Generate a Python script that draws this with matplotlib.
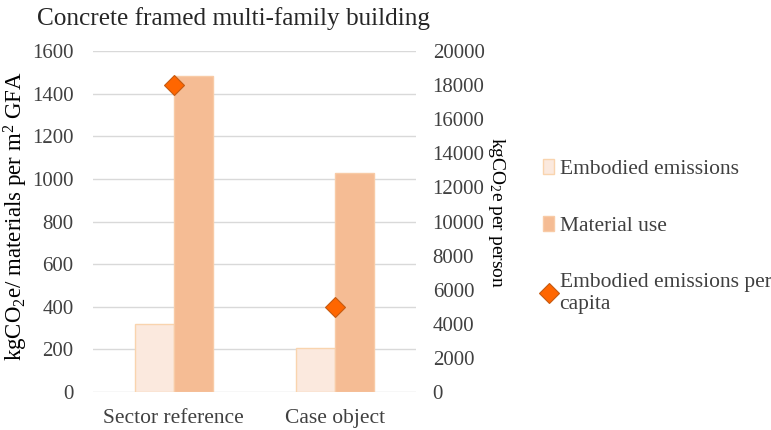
import matplotlib
matplotlib.use("Agg")
import matplotlib.pyplot as plt
import numpy as np

categories = ["Sector reference", "Case object"]
embodied = [320, 206]
material = [1485, 1028]
per_capita = [18000, 5000]

plt.rcParams['font.family'] = ['Liberation Serif', 'DejaVu Serif']
plt.rcParams['mathtext.fontset'] = 'custom'
plt.rcParams['mathtext.rm'] = 'Liberation Serif'
plt.rcParams['mathtext.it'] = 'Liberation Serif:italic'

fig = plt.figure(figsize=(7.71, 4.30), dpi=100)
ax = fig.add_axes([93/771, 1-392/430, 323/771, (392-51)/430])
ax2 = ax.twinx()

x = np.arange(len(categories))
w = 0.24
ax.bar(x - w/2, embodied, w, color='#FBE9DE', edgecolor='#F9D4AE', linewidth=1, label='Embodied emissions', zorder=3)
ax.bar(x + w/2, material, w, color='#F5BC94', edgecolor='#F8CBA6', linewidth=1, label='Material use', zorder=3)
ax2.plot(x, per_capita, linestyle='none', marker='D', markersize=10, color='#FF6600',
         markeredgecolor='#C55A11', markeredgewidth=0.8, label='Embodied emissions per\ncapita', zorder=4)

ax.set_xlim(-0.5, 1.5)
ax.set_ylim(0, 1600)
ax.set_yticks(range(0, 1601, 200))
ax2.set_ylim(0, 20000)
ax2.set_yticks(range(0, 20001, 2000))
ax.grid(axis='y', color='#D9D9D9', linewidth=1, zorder=0)
ax.set_axisbelow(True)
for a in (ax, ax2):
    for s in a.spines.values():
        s.set_visible(False)
    a.tick_params(length=0, labelsize=15, colors='#404040')
ax.tick_params(axis='y', pad=14)
ax2.tick_params(axis='y', pad=12)
ax.tick_params(axis='x', pad=12, labelsize=15.5)
ax.set_xticks(x)
ax.set_xticklabels(categories)

fig.text(16/771, 1-216/430, 'kgCO$_2$e/ materials per m$^2$ GFA', fontsize=16.5, color='#000000',
         rotation=90, ha='center', va='center')
fig.text(496/771, 1-213/430, 'kgCO$_2$e per person', fontsize=14, color='#000000',
         rotation=270, ha='center', va='center')

fig.text(37/771, 1-19/430, 'Concrete framed multi-family building', fontsize=18.2, color='#262626',
         ha='left', va='center')

h1, l1 = ax.get_legend_handles_labels()
h2, l2 = ax2.get_legend_handles_labels()
leg = fig.legend(h1 + h2, l1 + l2, loc='upper left', bbox_to_anchor=(524/771, 1-140/430),
                 frameon=False, fontsize=15.5, handlelength=0.5, handletextpad=0.25,
                 labelspacing=1.7, labelcolor='#404040')

fig.savefig('out.png', dpi=100)
